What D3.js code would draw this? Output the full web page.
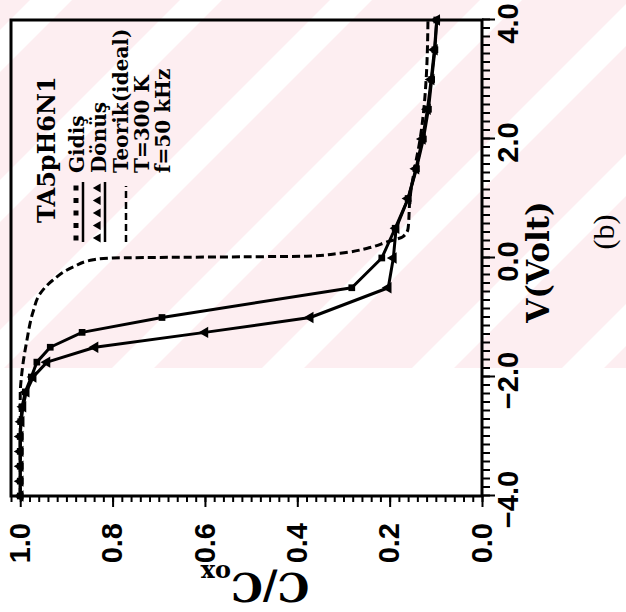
<!DOCTYPE html>
<html>
<head>
<meta charset="utf-8">
<script src="https://cdn.jsdelivr.net/npm/d3@7"></script>
<style>
body { margin: 0; background: #fff; }
svg { display: block; }
.tick text { font-family: "Liberation Sans", Arial, sans-serif; font-weight: bold; }
.legend text { font-family: "DejaVu Serif", serif; font-weight: bold; }
</style>
</head>
<body>
<div class="chart"></div>
<script>
/// Values (V in Volt, C/Cox)
var gidisV = [4.0, 3.5, 3.0, 2.5, 2.0, 1.5, 1.0, 0.5, 0.0, -0.5, -1.0, -1.25, -1.5, -1.75, -2.0, -2.25, -2.5, -2.75, -3.0, -3.25, -3.5, -3.75, -4.0];
var gidisC = [0.098, 0.102, 0.109, 0.116, 0.127, 0.142, 0.160, 0.188, 0.217, 0.282, 0.693, 0.866, 0.935, 0.964, 0.976, 0.989, 0.996, 0.999, 1.0, 1.0, 1.0, 1.0, 1.0];

var donusV = [4.0, 3.5, 3.0, 2.5, 2.0, 1.5, 1.0, 0.5, 0.0, -0.5, -1.0, -1.25, -1.5, -1.75, -2.0, -2.25, -2.5, -2.75, -3.0, -3.25, -3.5, -3.75, -4.0];
var donusC = [0.098, 0.103, 0.110, 0.118, 0.129, 0.143, 0.160, 0.186, 0.192, 0.203, 0.372, 0.600, 0.838, 0.942, 0.972, 0.987, 0.994, 0.998, 1.0, 1.0, 1.0, 1.0, 1.0];

var teorikV = [-4.0, -3.0, -2.3, -1.9, -1.4, -0.9, -0.6, -0.37, -0.15, -0.03, 0.0, 0.01, 0.02, 0.03, 0.08, 0.16, 0.27, 0.36, 0.5, 1.0, 1.5, 2.0, 2.5, 3.0, 4.0];
var teorikC = [1.0, 1.0, 1.0, 0.996, 0.986, 0.972, 0.957, 0.929, 0.885, 0.842, 0.80, 0.70, 0.52, 0.38, 0.307, 0.25, 0.206, 0.171, 0.160, 0.156, 0.146, 0.134, 0.126, 0.121, 0.117];

var vTicks = [-4.0, -2.0, 0.0, 2.0, 4.0];
var cTicks = [0.0, 0.2, 0.4, 0.6, 0.8, 1.0];

var legendNames = ["Gidiş", "Dönüş", "Teorik(ideal)"];
var conditions = ["T=300 K", "f=50 kHz"];
var sampleName = "TA5pH6N1";

/// SVG wrapper
var svgWidth = 626;
var svgHeight = 612;

var svg = d3.select(".chart")
    .append("svg")
    .attr("width", svgWidth)
    .attr("height", svgHeight);

/// Pale pink watermark band behind the upper part
var bandHeight = 368;
svg.append("defs").append("clipPath")
    .attr("id", "band")
    .append("rect")
    .attr("width", svgWidth)
    .attr("height", bandHeight);

var band = svg.append("g").attr("clip-path", "url(#band)");
band.append("rect")
    .attr("width", svgWidth)
    .attr("height", bandHeight)
    .attr("fill", "#fdeef1");

var stripeStarts = d3.range(-270, 1100, 150);
band.selectAll("polygon")
    .data(stripeStarts)
    .enter()
    .append("polygon")
    .attr("points", c => [[c, 0], [c + 42, 0], [c + 42 - bandHeight, bandHeight], [c - bandHeight, bandHeight]].join(" "))
    .attr("fill", "#fff");

/// Plot is drawn in its own orientation, then turned a quarter left
var plotW = 476;
var plotH = 471;

var chartGroup = svg.append("g")
    .attr("transform", "translate(11, 496) rotate(-90)");

var xScale = d3.scaleLinear().domain([-4, 4]).range([0, plotW]);
var yScale = d3.scaleLinear().domain([0, 1.02]).range([plotH, 0]);

var fmt = d3.format(".1f");

/// C/Cox axis (bottom of the picture)
var cMinor = d3.range(0, 52).map(i => i * 0.02);
chartGroup.append("g")
    .call(d3.axisLeft(yScale).tickValues(cMinor).tickSize(6).tickFormat(""))
    .call(g => g.select(".domain").remove());

var cAxis = chartGroup.append("g")
    .call(d3.axisLeft(yScale).tickValues(cTicks).tickSize(11).tickPadding(16).tickFormat(fmt))
    .call(g => g.select(".domain").remove());
cAxis.selectAll("text").attr("font-size", 29).attr("fill", "#000");

/// V axis (right side of the picture)
var vMinor = d3.range(0, 57).map(i => -4 + i / 7);
chartGroup.append("g")
    .attr("transform", `translate(0, ${plotH})`)
    .call(d3.axisBottom(xScale).tickValues(vMinor).tickSize(8).tickFormat(""))
    .call(g => g.select(".domain").remove());

var vAxis = chartGroup.append("g")
    .attr("transform", `translate(0, ${plotH})`)
    .call(d3.axisBottom(xScale).tickValues(vTicks).tickSize(13).tickPadding(2).tickFormat(fmt))
    .call(g => g.select(".domain").remove());
vAxis.selectAll("text").attr("font-size", 29).attr("fill", "#000").attr("x", -4);

chartGroup.selectAll(".tick line").attr("stroke", "#000").attr("stroke-width", 2);

/// Frame
chartGroup.append("rect")
    .attr("width", plotW)
    .attr("height", plotH)
    .attr("fill", "none")
    .attr("stroke", "#000")
    .attr("stroke-width", 3);

/// Curves
var toPoints = (vs, cs) => vs.map((v, i) => ({ v: v, c: cs[i] }));
var gidis = toPoints(gidisV, gidisC);
var donus = toPoints(donusV, donusC);
var teorik = toPoints(teorikV, teorikC);

var straight = d3.line().x(d => xScale(d.v)).y(d => yScale(d.c));
var smooth = d3.line().x(d => xScale(d.v)).y(d => yScale(d.c)).curve(d3.curveMonotoneX);

chartGroup.append("path")
    .datum(teorik)
    .attr("d", smooth)
    .attr("fill", "none")
    .attr("stroke", "#000")
    .attr("stroke-width", 3)
    .attr("stroke-dasharray", "8,4");

[gidis, donus].forEach(function(series) {
    chartGroup.append("path")
        .datum(series)
        .attr("d", straight)
        .attr("fill", "none")
        .attr("stroke", "#000")
        .attr("stroke-width", 3)
        .attr("stroke-linejoin", "round");
});

var square = d3.symbol().type(d3.symbolSquare).size(45);
var triangle = d3.symbol().type(d3.symbolTriangle).size(55);

chartGroup.selectAll(".sq")
    .data(gidis)
    .enter()
    .append("path")
    .attr("class", "sq")
    .attr("transform", d => `translate(${xScale(d.v)}, ${yScale(d.c)})`)
    .attr("d", square)
    .attr("fill", "#000");

chartGroup.selectAll(".tri")
    .data(donus)
    .enter()
    .append("path")
    .attr("class", "tri")
    .attr("transform", d => `translate(${xScale(d.v)}, ${yScale(d.c)})`)
    .attr("d", triangle)
    .attr("fill", "#000");

/// Legend, inside the plot (plot coordinates)
var legend = chartGroup.append("g").attr("class", "legend");

legend.append("text")
    .attr("x", 273)
    .attr("y", 44)
    .attr("font-size", 24)
    .text(sampleName);

var rowY = [73, 95, 117, 138, 159];
var textStart = 323;
var sampleFrom = 254;
var sampleTo = 314;
var sampleMarks = d3.range(5).map(i => sampleFrom + 4 + i * 12.5);

legendNames.concat(conditions).forEach(function(name, i) {
    legend.append("text")
        .attr("x", textStart)
        .attr("y", rowY[i])
        .attr("font-size", 20)
        .text(name);
});

// Gidiş sample
legend.append("line")
    .attr("x1", sampleFrom).attr("x2", sampleTo)
    .attr("y1", rowY[0] - 1).attr("y2", rowY[0] - 1)
    .attr("stroke", "#000").attr("stroke-width", 2.5);
legend.selectAll(".lsq")
    .data(sampleMarks)
    .enter()
    .append("path")
    .attr("class", "lsq")
    .attr("transform", d => `translate(${d}, ${rowY[0] - 8})`)
    .attr("d", d3.symbol().type(d3.symbolSquare).size(25))
    .attr("fill", "#000");

// Dönüş sample
legend.append("line")
    .attr("x1", sampleFrom).attr("x2", sampleTo)
    .attr("y1", rowY[1] - 1).attr("y2", rowY[1] - 1)
    .attr("stroke", "#000").attr("stroke-width", 2.5);
legend.selectAll(".ltri")
    .data(sampleMarks)
    .enter()
    .append("path")
    .attr("class", "ltri")
    .attr("transform", d => `translate(${d}, ${rowY[1] - 8})`)
    .attr("d", d3.symbol().type(d3.symbolTriangle).size(35))
    .attr("fill", "#000");

// Teorik sample
legend.append("line")
    .attr("x1", sampleFrom).attr("x2", sampleTo - 4)
    .attr("y1", rowY[2] - 2).attr("y2", rowY[2] - 2)
    .attr("stroke", "#000").attr("stroke-width", 2.5)
    .attr("stroke-dasharray", "7,4");

/// Axis titles, in picture coordinates
svg.append("text")
    .attr("x", 538)
    .attr("y", 262)
    .attr("transform", "rotate(-90, 538, 262)")
    .attr("text-anchor", "middle")
    .attr("dy", "0.35em")
    .attr("font-family", "DejaVu Serif, serif")
    .attr("font-weight", "bold")
    .attr("font-size", 31)
    .text("V(Volt)");

var cTitle = svg.append("text")
    .attr("x", 255)
    .attr("y", 573)
    .attr("transform", "rotate(180, 255, 573)")
    .attr("text-anchor", "middle")
    .attr("font-family", "DejaVu Serif, serif")
    .attr("font-weight", "bold")
    .attr("font-size", 40);
cTitle.append("tspan").text("C/C");
cTitle.append("tspan").attr("font-size", 24).attr("dy", 8).text("ox");

svg.append("text")
    .attr("x", 614)
    .attr("y", 232)
    .attr("transform", "rotate(-90, 614, 232)")
    .attr("text-anchor", "middle")
    .attr("font-family", "Liberation Serif, serif")
    .attr("font-size", 30)
    .text("(b)");
</script>
</body>
</html>
